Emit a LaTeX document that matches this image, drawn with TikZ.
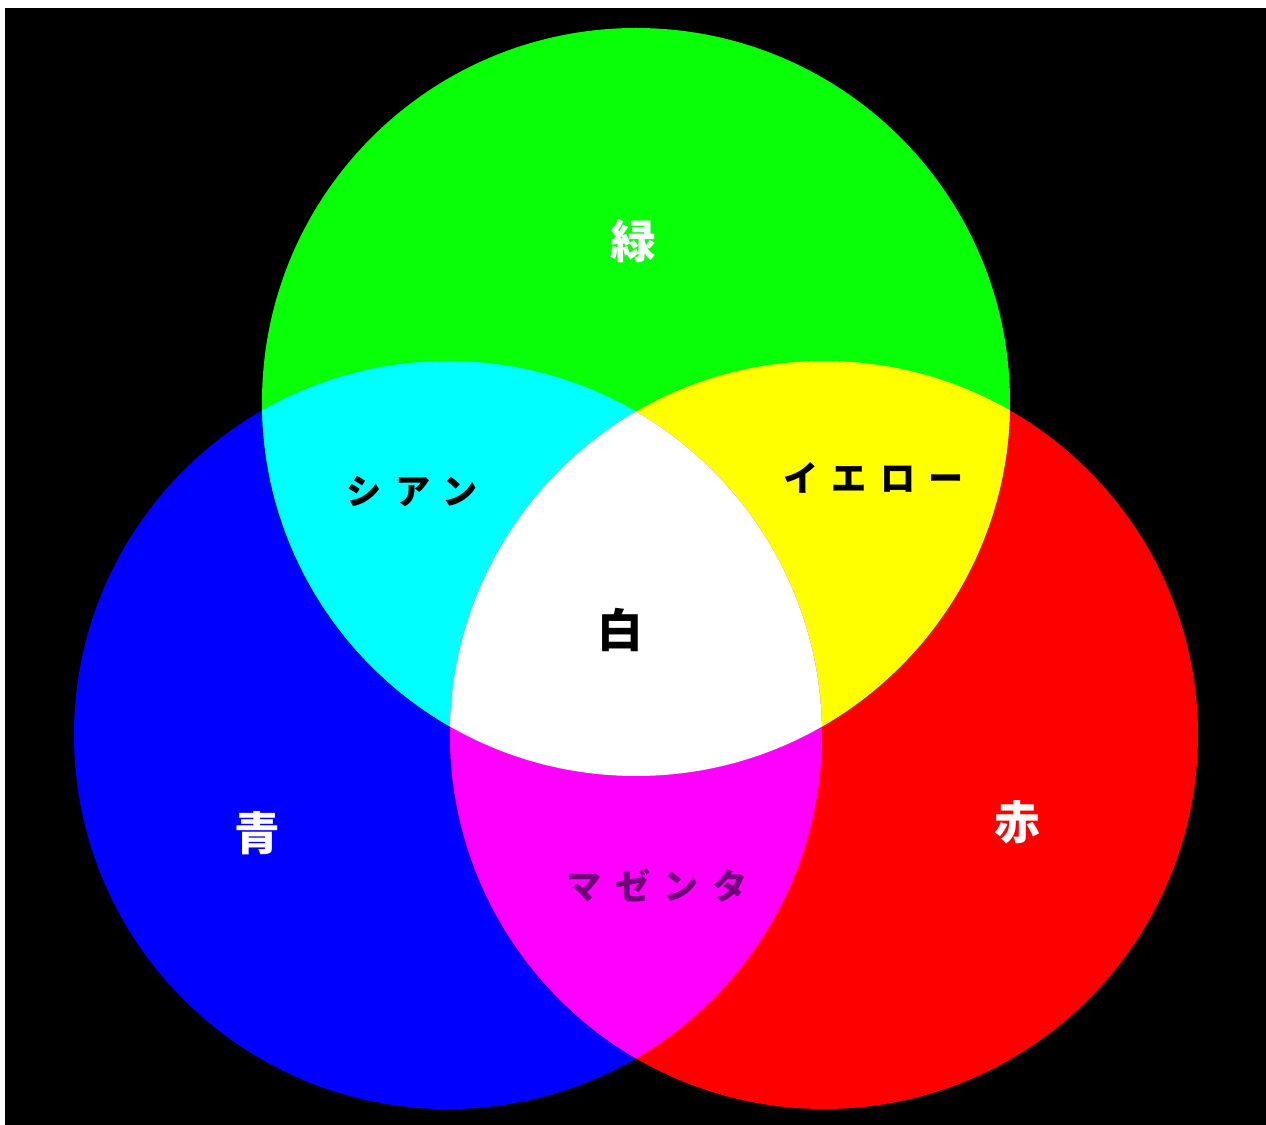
\documentclass[tikz,border=0pt]{standalone}
\usepackage{fontspec}
\newfontfamily\jpfont{Noto Sans CJK JP}
\newfontfamily\jpwide{Noto Sans CJK JP}[LetterSpace=38]
\usepackage{tikz}
\usetikzlibrary{positioning}
\definecolor{rgbgreen}{RGB}{8,255,8}
\definecolor{rgbblue}{RGB}{0,0,255}
\definecolor{rgbred}{RGB}{255,0,0}
\definecolor{rgbcyan}{RGB}{0,255,255}
\definecolor{rgbyellow}{RGB}{255,255,0}
\definecolor{rgbmag}{RGB}{255,0,255}
\definecolor{magtext}{RGB}{110,0,120}
\tikzset{
  big/.style={font=\jpfont\bfseries\fontsize{13pt}{13pt}\selectfont,text=white,inner sep=0pt},
  kana/.style={font=\jpwide\bfseries\fontsize{10pt}{10pt}\selectfont,text=black,inner sep=0pt},
}
\newcommand{\rr}{3.74cm}

\begin{document}
\begin{tikzpicture}
\useasboundingbox (0,0) rectangle (12.66,11.25);
\fill[white] (0,0) rectangle (12.66,11.25);
\fill[black] (0.05,0) rectangle (12.66,11.17);
\coordinate (g) at (6.36,7.23);
\coordinate (b) at (4.48,3.90);
\coordinate (r) at (8.24,3.90);
% base circles
\fill[rgbblue] (b) circle[radius=\rr];
\fill[rgbred] (r) circle[radius=\rr];
\fill[rgbgreen] (g) circle[radius=\rr];
% overlaps
\begin{scope}\clip (g) circle[radius=\rr]; \fill[rgbcyan] (b) circle[radius=\rr];\end{scope}
\begin{scope}\clip (g) circle[radius=\rr]; \fill[rgbyellow] (r) circle[radius=\rr];\end{scope}
\begin{scope}\clip (b) circle[radius=\rr]; \fill[rgbmag] (r) circle[radius=\rr];\end{scope}
\begin{scope}\clip (g) circle[radius=\rr]; \clip (b) circle[radius=\rr]; \fill[white] (r) circle[radius=\rr];\end{scope}
% labels
\node[big] (lg) at (6.33,8.84) {緑};
\node[big] (lb) at (2.57,2.92) {青};
\node[big] (lr) at (10.17,3.03) {赤};
\node[big,text=black] (lw) at (6.20,4.95) {白};
\node[kana] (lc) at (4.12,6.33) {シアン};
\node[kana] (ly) at (8.74,6.47) {イエロー};
\node[kana,text=magtext] (lm) at (6.57,2.40) {マゼンタ};
\end{tikzpicture}
\end{document}
